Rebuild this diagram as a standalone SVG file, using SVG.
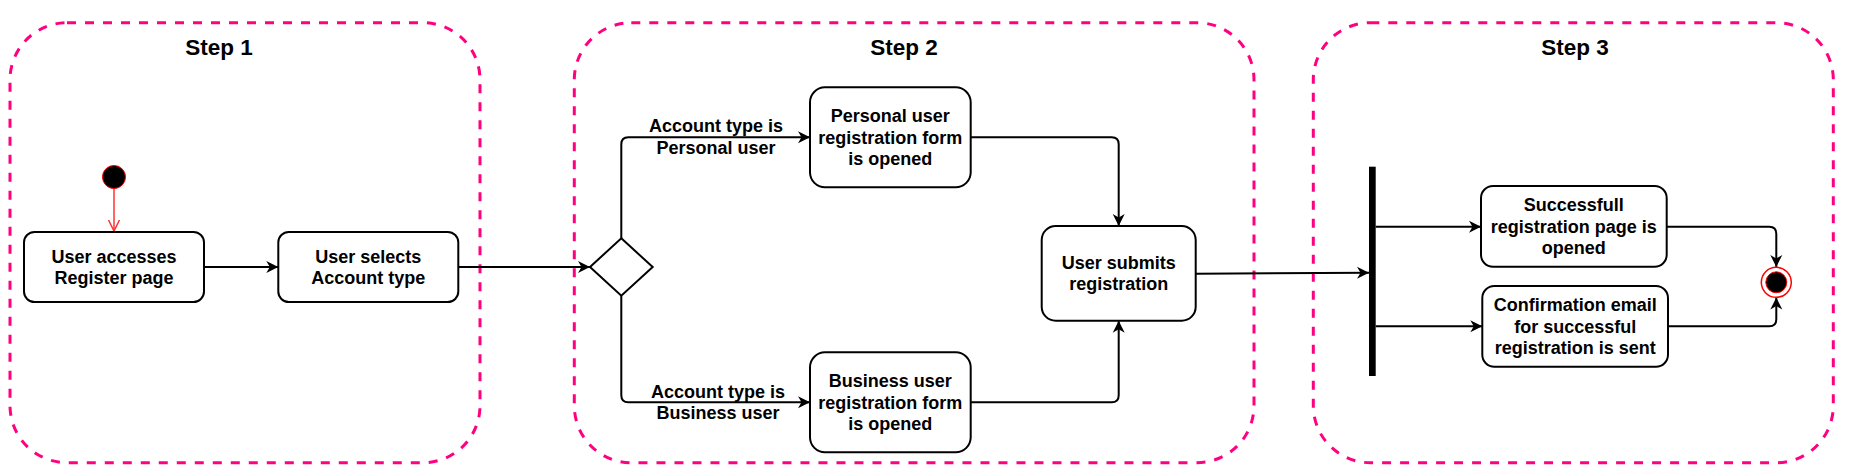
<svg xmlns="http://www.w3.org/2000/svg" width="1854" height="471" viewBox="0 0 1854 471">
<style>
.container{fill:none;stroke:#FF0080;stroke-width:3;stroke-dasharray:9 9;}
.box{fill:#fff;stroke:#000;stroke-width:2;}
.t{font-family:"Liberation Sans",Arial,Helvetica,sans-serif;font-weight:bold;font-size:18px;fill:#000;text-anchor:middle;}
.title{font-family:"Liberation Sans",Arial,Helvetica,sans-serif;font-weight:bold;font-size:22.5px;fill:#000;text-anchor:middle;}
.edge{fill:none;stroke:#000;stroke-width:2;marker-end:url(#arrow);}
</style>
<defs>
<marker id="arrow" markerUnits="userSpaceOnUse" markerWidth="14" markerHeight="14" refX="12" refY="6" orient="auto" viewBox="0 0 14 12">
<path d="M0,0 L12,6 L0,12 L3.5,6 Z" fill="#000"/>
</marker>
<marker id="openRed" markerUnits="userSpaceOnUse" markerWidth="14" markerHeight="14" refX="11" refY="6" orient="auto" viewBox="0 0 14 12">
<path d="M0,0.5 L11,6 L0,11.5" fill="none" stroke="#FF3333" stroke-width="1.5"/>
</marker>
</defs>

<g id="step1">
<rect class="container" x="10" y="22.7" width="470" height="440" rx="57" ry="57"/>
<text class="title" x="219" y="55">Step 1</text>
</g>
<g id="step2">
<rect class="container" x="574.3" y="22.7" width="679.7" height="440" rx="57" ry="57"/>
<text class="title" x="904" y="55">Step 2</text>
</g>
<g id="step3">
<rect class="container" x="1313.3" y="22.7" width="520" height="440" rx="57" ry="57"/>
<text class="title" x="1575" y="55">Step 3</text>
</g>

<g id="connectors">
<line x1="114" y1="189" x2="114" y2="231" stroke="#FF3333" stroke-width="1.5" marker-end="url(#openRed)"/>
<path class="edge" d="M204,267 H278.3"/>
<path class="edge" d="M458.3,267 H590"/>
<path class="edge" d="M621.3,238.3 V144.3 Q621.3,137.3 628.3,137.3 H810"/>
<path class="edge" d="M621.3,295.7 V395.3 Q621.3,402.3 628.3,402.3 H810"/>
<path class="edge" d="M970.7,137.3 H1111.7 Q1118.7,137.3 1118.7,144.3 V226"/>
<path class="edge" d="M970.7,402.3 H1111.7 Q1118.7,402.3 1118.7,395.3 V320.7"/>
<path class="edge" d="M1195.7,273.7 L1369,272.7"/>
<path class="edge" d="M1375.7,226.7 H1481"/>
<path class="edge" d="M1375.7,326.3 H1482.3"/>
<path class="edge" d="M1666.7,226.7 H1769.3 Q1776.3,226.7 1776.3,233.7 V267"/>
<path class="edge" d="M1668,326.3 H1769.3 Q1776.3,326.3 1776.3,319.3 V297.5"/>
<text class="t" x="716" y="132.4">Account type is</text>
<text class="t" x="716" y="154">Personal user</text>
<text class="t" x="718" y="397.8">Account type is</text>
<text class="t" x="718" y="419.4">Business user</text>
</g>

<g id="start">
<circle cx="114" cy="177" r="11.5" fill="#000" stroke="#FF0000" stroke-width="1"/>
</g>

<g id="access">
<rect class="box" x="24" y="232" width="180" height="70" rx="10.5" ry="10.5"/>
<text class="t" x="114" y="262.5">User accesses</text>
<text class="t" x="114" y="284.1">Register page</text>
</g>

<g id="select">
<rect class="box" x="278.3" y="232" width="180" height="70" rx="10.5" ry="10.5"/>
<text class="t" x="368.3" y="262.5">User selects</text>
<text class="t" x="368.3" y="284.1">Account type</text>
</g>

<g id="decision">
<polygon points="621.3,238.3 652.7,267 621.3,295.7 590,267" fill="#fff" stroke="#000" stroke-width="2"/>
</g>

<g id="personal">
<rect class="box" x="810" y="87.3" width="160.7" height="100" rx="15" ry="15"/>
<text class="t" x="890.3" y="122">Personal user</text>
<text class="t" x="890.3" y="143.6">registration form</text>
<text class="t" x="890.3" y="165.2">is opened</text>
</g>

<g id="business">
<rect class="box" x="810" y="352.3" width="160.7" height="100" rx="15" ry="15"/>
<text class="t" x="890.3" y="387">Business user</text>
<text class="t" x="890.3" y="408.6">registration form</text>
<text class="t" x="890.3" y="430.2">is opened</text>
</g>

<g id="submit">
<rect class="box" x="1041.7" y="226" width="154" height="94.7" rx="14" ry="14"/>
<text class="t" x="1118.7" y="268.8">User submits</text>
<text class="t" x="1118.7" y="290.4">registration</text>
</g>

<g id="fork">
<rect x="1369" y="166.7" width="6.7" height="209.3" fill="#000"/>
</g>

<g id="success">
<rect class="box" x="1481" y="186" width="185.7" height="80.7" rx="12" ry="12"/>
<text class="t" x="1573.8" y="211">Successfull</text>
<text class="t" x="1573.8" y="232.6">registration page is</text>
<text class="t" x="1573.8" y="254.2">opened</text>
</g>

<g id="confirm">
<rect class="box" x="1482.3" y="286" width="185.7" height="80.7" rx="12" ry="12"/>
<text class="t" x="1575.2" y="311">Confirmation email</text>
<text class="t" x="1575.2" y="332.6">for successful</text>
<text class="t" x="1575.2" y="354.2">registration is sent</text>
</g>

<g id="end">
<circle cx="1776.3" cy="282.3" r="15" fill="#fff" stroke="#FF0000" stroke-width="1.5"/>
<circle cx="1776.3" cy="282.3" r="10.5" fill="#000" stroke="#FF0000" stroke-width="1"/>
</g>
</svg>
